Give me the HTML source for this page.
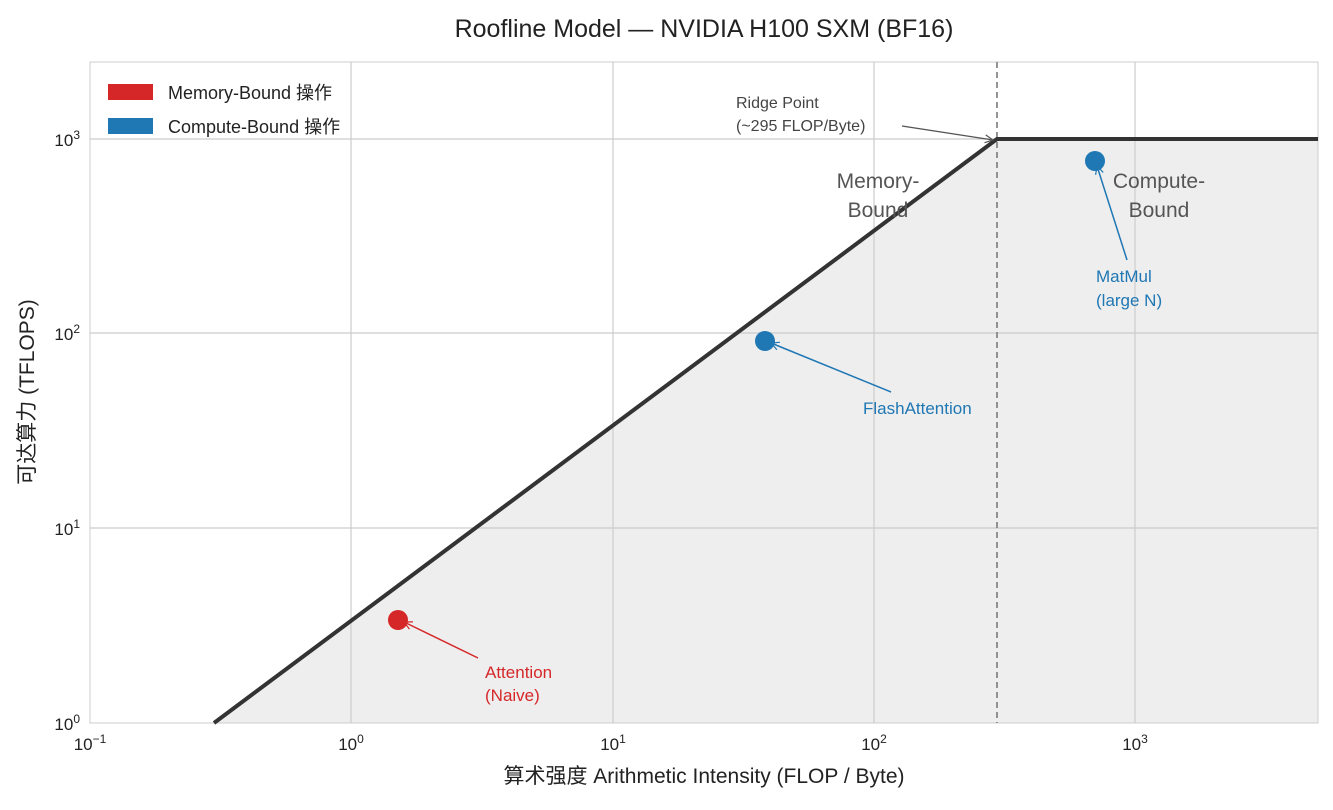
<!DOCTYPE html>
<html><head><meta charset="utf-8"><style>
body{margin:0;background:#fff}
text{font-family:"Liberation Sans","Noto Sans CJK SC",sans-serif}
</style></head><body>
<svg width="1333" height="805" xmlns="http://www.w3.org/2000/svg">
<defs>
<marker id="a1" markerWidth="10" markerHeight="10" refX="9" refY="5" orient="auto" markerUnits="userSpaceOnUse"><path d="M1,1 L9,5 L1,9" fill="none" stroke="#555" stroke-width="1.2"/></marker>
<marker id="ar" markerWidth="10" markerHeight="10" refX="9" refY="5" orient="auto" markerUnits="userSpaceOnUse"><path d="M1,1 L9,5 L1,9" fill="none" stroke="#d62728" stroke-width="1.2"/></marker>
<marker id="ab" markerWidth="10" markerHeight="10" refX="9" refY="5" orient="auto" markerUnits="userSpaceOnUse"><path d="M1,1 L9,5 L1,9" fill="none" stroke="#1f77b4" stroke-width="1.2"/></marker>
</defs>
<text x="704" y="37" font-size="25" text-anchor="middle" fill="#222">Roofline Model — NVIDIA H100 SXM (BF16)</text>
<rect x="90" y="62" width="1228" height="661" fill="#fff" stroke="#ccc"/>
<polygon points="214,723 997,139 1318,139 1318,723" fill="#eeeeee"/>
<g stroke="#cccccc" stroke-width="1.2">
<line x1="351" y1="62" x2="351" y2="723"/><line x1="613" y1="62" x2="613" y2="723"/>
<line x1="874" y1="62" x2="874" y2="723"/><line x1="1135" y1="62" x2="1135" y2="723"/>
<line x1="90" y1="139" x2="1318" y2="139"/><line x1="90" y1="333" x2="1318" y2="333"/>
<line x1="90" y1="528" x2="1318" y2="528"/>
</g>
<rect x="90" y="62" width="1228" height="661" fill="none" stroke="#ccc"/>
<line x1="997" y1="62" x2="997" y2="723" stroke="#888" stroke-width="1.8" stroke-dasharray="6,4"/>
<polyline points="214,723 997,139 1318,139" fill="none" stroke="#333" stroke-width="4"/>
<g font-size="17" fill="#222" text-anchor="middle">
<text x="90" y="750">10<tspan dy="-7" font-size="12">−1</tspan></text>
<text x="351" y="750">10<tspan dy="-7" font-size="12">0</tspan></text>
<text x="613" y="750">10<tspan dy="-7" font-size="12">1</tspan></text>
<text x="874" y="750">10<tspan dy="-7" font-size="12">2</tspan></text>
<text x="1135" y="750">10<tspan dy="-7" font-size="12">3</tspan></text>
</g>
<g font-size="17" fill="#222" text-anchor="end">
<text x="80" y="730">10<tspan dy="-7" font-size="12">0</tspan></text>
<text x="80" y="535">10<tspan dy="-7" font-size="12">1</tspan></text>
<text x="80" y="340">10<tspan dy="-7" font-size="12">2</tspan></text>
<text x="80" y="146">10<tspan dy="-7" font-size="12">3</tspan></text>
</g>
<text x="704" y="783" font-size="21" text-anchor="middle" fill="#222">算术强度 Arithmetic Intensity  (FLOP / Byte)</text>
<text transform="translate(34,392) rotate(-90)" font-size="21" text-anchor="middle" fill="#222">可达算力  (TFLOPS)</text>
<rect x="108" y="84" width="45" height="16" fill="#d62728"/>
<text x="168" y="99" font-size="18" fill="#222">Memory-Bound 操作</text>
<rect x="108" y="118" width="45" height="16" fill="#1f77b4"/>
<text x="168" y="133" font-size="18" fill="#222">Compute-Bound 操作</text>
<text x="736" y="108" font-size="16" fill="#444">Ridge Point</text>
<text x="736" y="131" font-size="16" fill="#444">(~295 FLOP/Byte)</text>
<line x1="902" y1="126" x2="993" y2="140" stroke="#555" stroke-width="1.3" marker-end="url(#a1)"/>
<g font-size="21" fill="#555" text-anchor="middle">
<text x="878" y="188">Memory-</text><text x="878" y="217">Bound</text>
<text x="1159" y="188">Compute-</text><text x="1159" y="217">Bound</text>
</g>
<line x1="478" y1="658" x2="404" y2="622" stroke="#d62728" stroke-width="1.5" marker-end="url(#ar)"/>
<circle cx="398" cy="620" r="10" fill="#d62728"/>
<text x="485" y="678" font-size="17" fill="#d62728">Attention</text>
<text x="485" y="701" font-size="17" fill="#d62728">(Naive)</text>
<line x1="891" y1="392" x2="771" y2="343" stroke="#1f77b4" stroke-width="1.5" marker-end="url(#ab)"/>
<circle cx="765" cy="341" r="10" fill="#1f77b4"/>
<text x="863" y="414" font-size="17" fill="#1f77b4">FlashAttention</text>
<line x1="1127" y1="260" x2="1097" y2="166" stroke="#1f77b4" stroke-width="1.5" marker-end="url(#ab)"/>
<circle cx="1095" cy="161" r="10" fill="#1f77b4"/>
<text x="1096" y="282" font-size="17" fill="#1f77b4">MatMul</text>
<text x="1096" y="306" font-size="17" fill="#1f77b4">(large N)</text>
</svg>
</body></html>
